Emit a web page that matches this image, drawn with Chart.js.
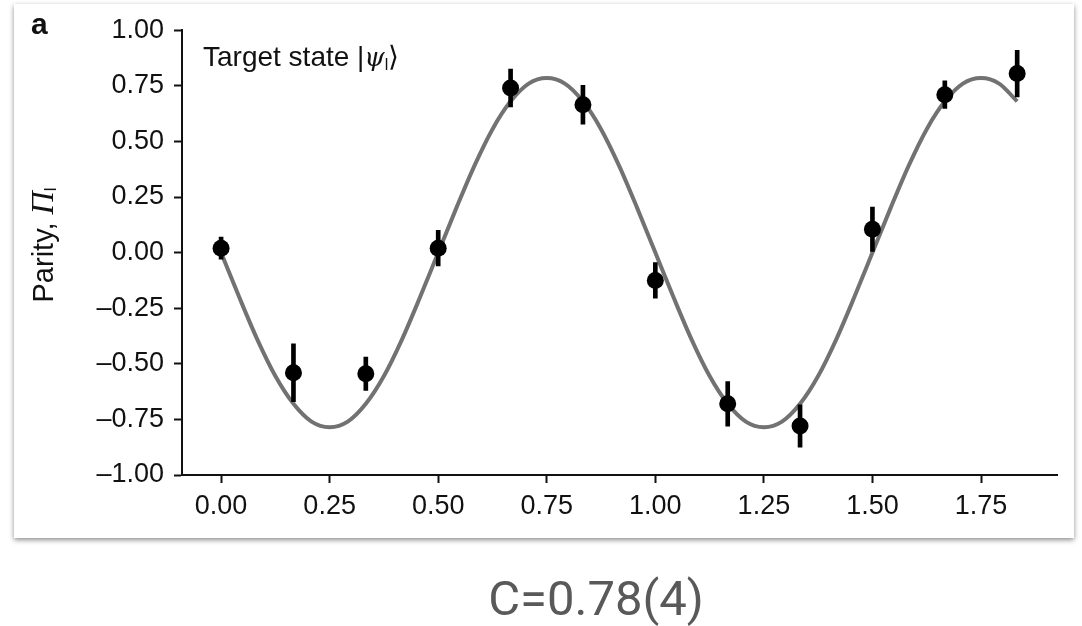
<!DOCTYPE html>
<html lang="en">
<head>
  <meta charset="UTF-8">
  <title>Parity oscillation</title>
  <script src="https://cdn.jsdelivr.net/npm/chart.js"></script>
  <style>
    body { margin: 0; background: #fff; font-family: "Liberation Sans", Arial, sans-serif; }
    #card {
      position: absolute; left: 14px; top: 4px; width: 1060px; height: 534px;
      background: #fff; box-shadow: 0 2px 5px rgba(0,0,0,0.45);
    }
    #card canvas { position: absolute; left: 0; top: 0; }
    .lbl { position: absolute; color: #111; font-size: 28px; white-space: nowrap; line-height: normal; }
    #panel { left: 17px; top: 3px; font-weight: bold; font-size: 30px; }
    #target { left: 189px; top: 36px; }
    #target i { font-family: "DejaVu Serif", serif; font-size: 26px; }
    #target sub { font-size: 16px; vertical-align: -4px; }
    #ytitle { left: 28px; top: 241px; font-size: 29px; transform: translate(-50%, -50%) rotate(-90deg); }
    #ytitle i { font-family: "Liberation Serif", serif; font-size: 32px; }
    #ytitle sub { font-size: 17px; vertical-align: -3px; }
    #contrast {
      position: absolute; left: 396px; width: 400px; top: 574px; text-align: center;
      font-family: Roboto, sans-serif; font-size: 49px; line-height: 1; color: #595959;
    }
  </style>
</head>
<body>
  <div id="card">
    <canvas id="parityChart" width="1060" height="534"></canvas>
    <div class="lbl" id="panel">a</div>
    <div class="lbl" id="target">Target state |<i>ψ</i><sub>l</sub>⟩</div>
    <div class="lbl" id="ytitle">Parity, <i>Π</i><sub>l</sub></div>
  </div>
  <div id="contrast">C=0.78(4)</div>

  <script>
    // measured points (x in units of the phase scan)
    const xVals = [0, 0.1667, 0.3333, 0.5, 0.6667, 0.8333, 1.0, 1.1667, 1.3333, 1.5, 1.6667, 1.8333];
    const yVals = [0.02, -0.54, -0.545, 0.02, 0.74, 0.665, -0.125, -0.68, -0.78, 0.105, 0.71, 0.805];
    const yErr  = [0.05, 0.13, 0.075, 0.08, 0.085, 0.087, 0.08, 0.1, 0.095, 0.1, 0.062, 0.105];

    const fitX = [0, 0.0417, 0.0833, 0.125, 0.1667, 0.2083, 0.25, 0.2917, 0.3333, 0.375, 0.4167, 0.4583,
      0.5, 0.5417, 0.5833, 0.625, 0.6667, 0.7083, 0.75, 0.7917, 0.8333, 0.875, 0.9167, 0.9583,
      1.0, 1.0417, 1.0833, 1.125, 1.1667, 1.2083, 1.25, 1.2917, 1.3333, 1.375, 1.4167, 1.4583,
      1.5, 1.5417, 1.5833, 1.625, 1.6667, 1.7083, 1.75, 1.7917, 1.8333];
    const fitY = [0, -0.20, -0.39, -0.555, -0.68, -0.76, -0.785, -0.76, -0.68, -0.555, -0.39, -0.20,
      0, 0.20, 0.39, 0.555, 0.68, 0.76, 0.785, 0.76, 0.68, 0.555, 0.39, 0.20,
      0, -0.20, -0.39, -0.555, -0.68, -0.76, -0.785, -0.76, -0.68, -0.555, -0.39, -0.20,
      0, 0.20, 0.39, 0.555, 0.68, 0.76, 0.785, 0.76, 0.68];

    const xTicks = [0, 0.25, 0.5, 0.75, 1.0, 1.25, 1.5, 1.75];
    const yTicks = [-1, -0.75, -0.5, -0.25, 0, 0.25, 0.5, 0.75, 1];

    const fmt = v => v.toFixed(2).replace('-', '\u2013');
    const tickFont = { family: '"Liberation Sans", Arial, sans-serif', size: 27 };

    const ctx = document.getElementById('parityChart').getContext('2d');
    new Chart(ctx, {
      type: 'scatter',
      data: {
        datasets: [
          {
            type: 'scatter',
            data: xVals.map((x, i) => ({ x: x, y: yVals[i] })),
            backgroundColor: '#000',
            borderWidth: 0,
            pointRadius: 8.5,
            order: 0
          },
          {
            type: 'bar',
            data: xVals.map((x, i) => ({ x: x, y: [yVals[i] - yErr[i], yVals[i] + yErr[i]] })),
            backgroundColor: '#000',
            barThickness: 4,
            borderSkipped: false,
            order: 1
          },
          {
            type: 'line',
            data: fitX.map((x, i) => ({ x: x, y: fitY[i] })),
            borderColor: '#727272',
            borderWidth: 4,
            pointRadius: 0,
            fill: false,
            cubicInterpolationMode: 'monotone',
            order: 2
          }
        ]
      },
      options: {
        responsive: false,
        animation: false,
        layout: { padding: { top: 19, right: 17, left: 0, bottom: 0 } },
        plugins: { legend: { display: false }, tooltip: { enabled: false } },
        scales: {
          x: {
            type: 'linear',
            min: -0.09,
            max: 1.925,
            offset: false,
            afterBuildTicks: s => { s.ticks = xTicks.map(v => ({ value: v })); },
            afterFit: s => { s.height = 63; },
            grid: { drawOnChartArea: false, offset: false, tickLength: 8, tickWidth: 2, color: '#111' },
            border: { color: '#111', width: 2 },
            ticks: { font: tickFont, color: '#111', padding: 7, callback: v => fmt(v), maxRotation: 0 }
          },
          y: {
            min: -1,
            max: 1,
            afterBuildTicks: s => { s.ticks = yTicks.map(v => ({ value: v })); },
            afterFit: s => { s.width = 168; },
            grid: { drawOnChartArea: false, tickLength: 8, tickWidth: 2, color: '#111' },
            border: { color: '#111', width: 2 },
            ticks: { font: tickFont, color: '#111', padding: 10, callback: v => fmt(v) }
          }
        }
      }
    });
  </script>
</body>
</html>
